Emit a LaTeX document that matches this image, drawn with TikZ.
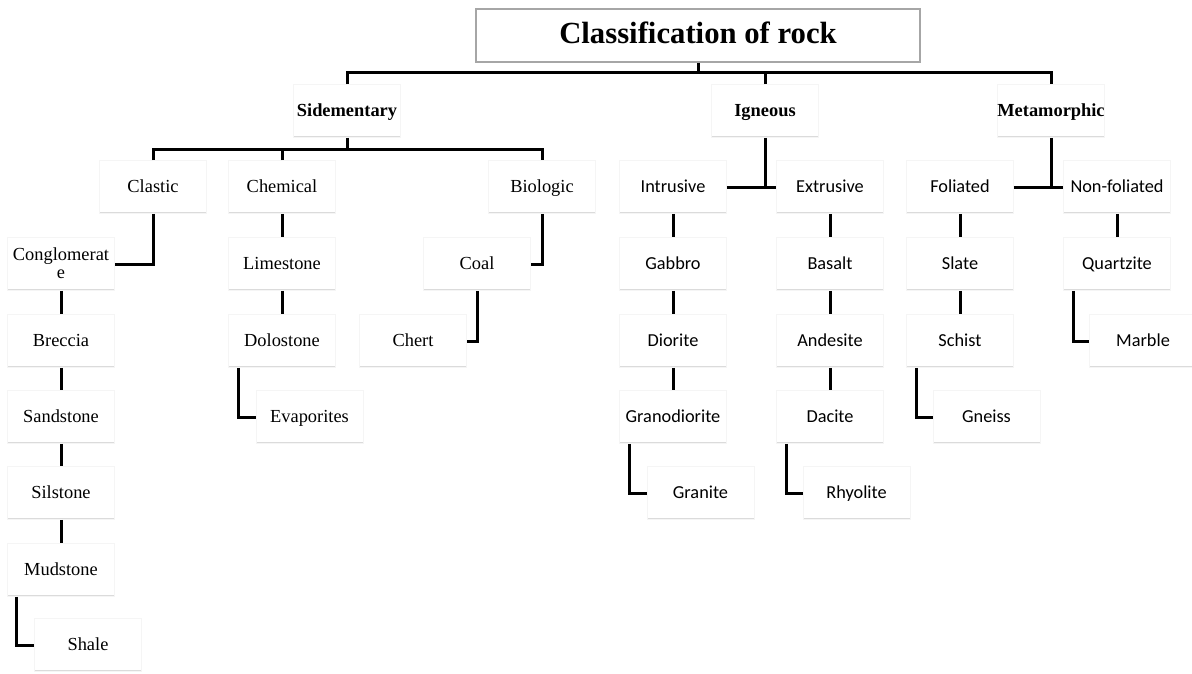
\documentclass[tikz,border=0pt]{standalone}
\usepackage{fontspec}
\setmainfont{Liberation Serif}
\newfontfamily\calfont{Carlito}
\begin{document}
\begin{tikzpicture}[x=1pt,y=-1pt,
  box/.style={draw=black!4, line width=0.8pt, fill=white, minimum width=107pt, minimum height=53pt,
    inner sep=0pt, align=center, text height=15pt, text depth=4pt, font=\fontsize{18.4}{18.5}\selectfont,
    path picture={\draw[black!14, line width=2.6pt] (path picture bounding box.south west) -- (path picture bounding box.south east);}},
  bbox/.style={box, font=\bfseries\fontsize{18.4}{19}\selectfont},
  cbox/.style={box, font=\calfont\fontsize{18.3}{19}\selectfont},
  tbox/.style={draw=black!35, line width=2pt, fill=white, minimum width=444pt, minimum height=53pt,
    inner sep=0pt, text height=22pt, text depth=6pt, font=\bfseries\fontsize{30.7}{32}\selectfont},
  conn/.style={draw=black, line width=3pt}]
\useasboundingbox (0,0) rectangle (1192,673);
\fill[white] (0,0) rectangle (1192,673);
\coordinate (bus1) at (0,72);
\coordinate (bus2) at (0,149);

\node[tbox] (title) at (698,35) {Classification of rock};
\node[bbox] (sed) at (347,111) {Sidementary};
\node[bbox] (ign) at (765,111) {Igneous};
\node[bbox] (met) at (1051,111) {Metamorphic};

\node[box] (clastic) at (153,187) {Clastic};
\node[box] (chemical) at (282,187) {Chemical};
\node[box] (biologic) at (542,187) {Biologic};
\node[cbox] (intrusive) at (673,187) {Intrusive};
\node[cbox] (extrusive) at (830,187) {Extrusive};
\node[cbox] (foliated) at (960,187) {Foliated};
\node[cbox] (nonfol) at (1117,187) {Non-foliated};

\node[box, text height=33pt] (cong) at (61,264) {Conglomerat\\e};
\node[box] (lime) at (282,264) {Limestone};
\node[box] (coal) at (477,264) {Coal};
\node[cbox] (gabbro) at (673,264) {Gabbro};
\node[cbox] (basalt) at (830,264) {Basalt};
\node[cbox] (slate) at (960,264) {Slate};
\node[cbox] (quartz) at (1117,264) {Quartzite};

\node[box] (breccia) at (61,341) {Breccia};
\node[box] (dolo) at (282,341) {Dolostone};
\node[box] (chert) at (413,341) {Chert};
\node[cbox] (diorite) at (673,341) {Diorite};
\node[cbox] (andesite) at (830,341) {Andesite};
\node[cbox] (schist) at (960,341) {Schist};
\node[cbox] (marble) at (1143,341) {Marble};

\node[box] (sand) at (61,417) {Sandstone};
\node[box] (evap) at (309.5,417) {Evaporites};
\node[cbox] (grano) at (673,417) {Granodiorite};
\node[cbox] (dacite) at (830,417) {Dacite};
\node[cbox] (gneiss) at (986.5,417) {Gneiss};

\node[box] (silt) at (61,493) {Silstone};
\node[cbox] (granite) at (700.5,493) {Granite};
\node[cbox] (rhyolite) at (856.5,493) {Rhyolite};

\node[box] (mud) at (61,570) {Mudstone};
\node[box] (shale) at (88,645) {Shale};

% top level
\draw[conn] (title.south) -- (title.south |- bus1);
\draw[conn] (sed.north) -- (sed.north |- bus1) -- (met.north |- bus1) -- (met.north);
\draw[conn] (ign.north) -- (ign.north |- bus1);

% sedimentary
\draw[conn] (sed.south) -- (sed.south |- bus2);
\draw[conn] (clastic.north) -- (clastic.north |- bus2) -- (biologic.north |- bus2) -- (biologic.north);
\draw[conn] (chemical.north) -- (chemical.north |- bus2);

\draw[conn] (clastic.south) |- (cong.east);
\draw[conn] (cong) -- (breccia);
\draw[conn] (breccia) -- (sand);
\draw[conn] (sand) -- (silt);
\draw[conn] (silt) -- (mud);
\draw[conn] ([xshift=9pt]mud.south west) |- (shale.west);

\draw[conn] (chemical) -- (lime);
\draw[conn] (lime) -- (dolo);
\draw[conn] ([xshift=10.5pt]dolo.south west) |- (evap.west);

\draw[conn] (biologic.south) |- (coal.east);
\draw[conn] (coal.south) |- (chert.east);

% igneous
\draw[conn] (ign.south) -- (ign.south |- intrusive.east);
\draw[conn] (intrusive.east) -- (extrusive.west);
\draw[conn] (intrusive) -- (gabbro);
\draw[conn] (gabbro) -- (diorite);
\draw[conn] (diorite) -- (grano);
\draw[conn] ([xshift=10pt]grano.south west) |- (granite.west);
\draw[conn] (extrusive) -- (basalt);
\draw[conn] (basalt) -- (andesite);
\draw[conn] (andesite) -- (dacite);
\draw[conn] ([xshift=10pt]dacite.south west) |- (rhyolite.west);

% metamorphic
\draw[conn] (met.south) -- (met.south |- foliated.east);
\draw[conn] (foliated.east) -- (nonfol.west);
\draw[conn] (foliated) -- (slate);
\draw[conn] (slate) -- (schist);
\draw[conn] ([xshift=10pt]schist.south west) |- (gneiss.west);
\draw[conn] (nonfol) -- (quartz);
\draw[conn] ([xshift=10pt]quartz.south west) |- (marble.west);
\end{tikzpicture}
\end{document}
